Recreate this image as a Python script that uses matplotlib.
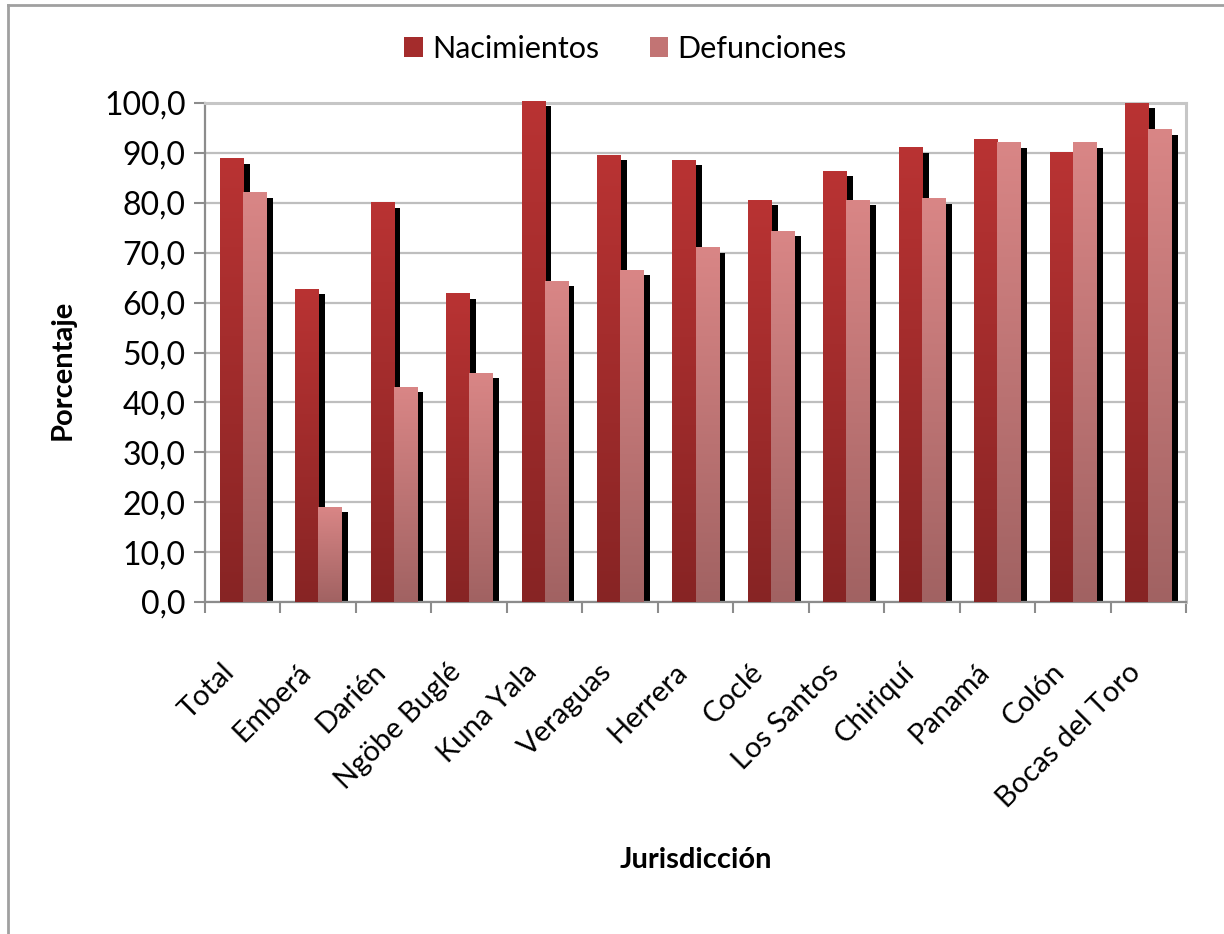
import matplotlib

matplotlib.use("Agg")
import matplotlib.pyplot as plt
import numpy as np
from matplotlib.colors import LinearSegmentedColormap
from matplotlib.lines import Line2D
from matplotlib.patches import Patch
from matplotlib.ticker import FuncFormatter, FixedLocator
from matplotlib.transforms import ScaledTranslation

plt.rcParams["font.family"] = ["Lato", "DejaVu Sans"]

jurisdicciones = ["Total", "Emberá", "Darién", "Ngöbe Buglé", "Kuna Yala", "Veraguas",
                  "Herrera", "Coclé", "Los Santos", "Chiriquí", "Panamá", "Colón",
                  "Bocas del Toro"]
nacimientos = [88.8, 62.7, 80.0, 61.8, 100.4, 89.5, 88.5, 80.5, 86.3, 91.0, 92.6, 90.0, 100.0]
defunciones = [82.0, 19.0, 43.0, 45.8, 64.3, 66.5, 71.0, 74.3, 80.5, 80.8, 92.0, 92.0, 94.6]

NAC = ("#B93333", "#872424")   # top, bottom of gradient
DEF = ("#D98686", "#A16262")

fig = plt.figure(figsize=(12.24, 9.34), dpi=100)
ax = fig.add_axes([205 / 1224, 1 - 602 / 934, (1186 - 205) / 1224, (602 - 103) / 934])

x = np.arange(len(jurisdicciones))
w = 0.305
dx, dy = 0.09, 1.0   # drop-shadow offset (categories, percent)


def gradient_bars(xs, vals, colors, z):
    bars = ax.bar(xs, vals, w, color="none", zorder=z, clip_on=False)
    cmap = LinearSegmentedColormap.from_list("g", [colors[1], colors[0]])
    grad = np.linspace(0, 1, 256).reshape(-1, 1)
    for b in bars:
        x0, y0 = b.get_x(), b.get_y()
        ax.imshow(grad, cmap=cmap, origin="lower", aspect="auto", zorder=z,
                  extent=[x0, x0 + b.get_width(), y0, y0 + b.get_height()],
                  clip_on=False)
    return bars


# shadows first, then the bars on top (above the spines too)
ax.bar(x - w / 2 + dx, np.array(nacimientos) - dy, w, color="black", zorder=1)
ax.bar(x + w / 2 + dx, np.array(defunciones) - dy, w, color="black", zorder=1)
gradient_bars(x - w / 2, nacimientos, NAC, 3)
gradient_bars(x + w / 2, defunciones, DEF, 4)

ax.set_xlim(-0.5, len(x) - 0.5)
ax.set_ylim(0, 100)
ax.set_yticks(np.arange(0, 101, 10))
ax.yaxis.set_major_formatter(FuncFormatter(lambda v, _: f"{v:.1f}".replace(".", ",")))
ax.grid(axis="y", color="#BEBEBE", lw=1.6, zorder=0)
ax.set_axisbelow(True)

# category ticks sit between groups; names are drawn rotated under each group
ax.set_xticks(x)
ax.set_xticklabels([])
ax.xaxis.set_minor_locator(FixedLocator(np.arange(-0.5, len(x), 1)))
ax.tick_params(axis="x", which="major", length=0)
ax.tick_params(axis="x", which="minor", length=8, width=1.5, color="#8C8C8C")
ax.tick_params(axis="y", length=8, width=1.5, color="#8C8C8C", labelsize=23, pad=6)
lbl_tr = ax.get_xaxis_transform() + ScaledTranslation(-0.12, -0.66, fig.dpi_scale_trans)
for xi, name in zip(x, jurisdicciones):
    ax.text(xi, 0, name, transform=lbl_tr, rotation=45, rotation_mode="anchor",
            ha="right", va="center", fontsize=21)

for side in ("left", "bottom"):
    ax.spines[side].set_color("#8C8C8C")
    ax.spines[side].set_linewidth(1.6)
for side in ("right", "top"):
    ax.spines[side].set_color("#C6C6C6")
    ax.spines[side].set_linewidth(2.2)

ax.set_ylabel("Porcentaje", fontsize=21, fontweight="bold")
ax.yaxis.set_label_coords(-0.132, 0.465)
ax.set_xlabel("Jurisdicción", fontsize=21, fontweight="bold")
ax.xaxis.set_label_coords(0.5, -0.49)

handles = [Patch(facecolor="#A42C2C", label="Nacimientos"),
           Patch(facecolor="#C27474", label="Defunciones")]
fig.legend(handles=handles, loc="center", bbox_to_anchor=(0.511, 0.948), ncol=2,
           frameon=False, fontsize=22, handlelength=0.62, handleheight=0.62,
           handletextpad=0.3, columnspacing=1.65)

# chart-area border
fig.add_artist(Line2D([8 / 1224, 1], [1 - 5 / 934] * 2, color="#A0A0A0", lw=2))
fig.add_artist(Line2D([8 / 1224] * 2, [0, 1 - 5 / 934], color="#A0A0A0", lw=2))

fig.savefig("out.png", dpi=100)
